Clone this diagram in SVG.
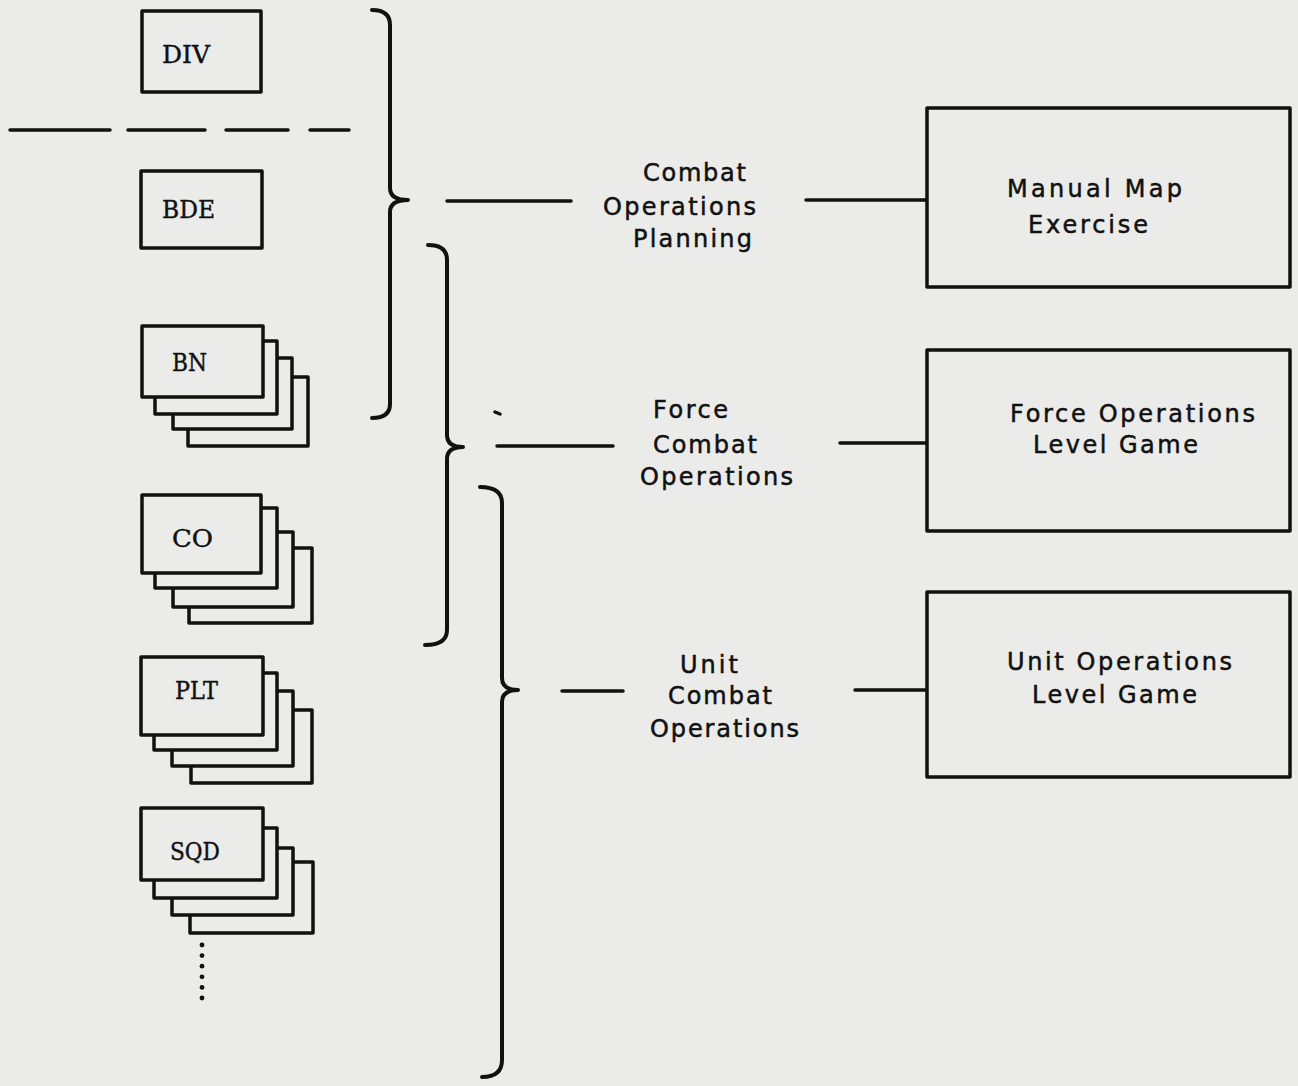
<svg xmlns="http://www.w3.org/2000/svg" width="1298" height="1086" viewBox="0 0 1298 1086">
<style>
.bg{fill:#ebebea}
.box{fill:#ebebea;stroke:#111;stroke-width:3.5;stroke-linejoin:round}
.ln{stroke:#111;stroke-width:3.5;fill:none;stroke-linecap:round}
.br{stroke:#111;stroke-width:4;fill:none;stroke-linecap:round;stroke-linejoin:round}
.lab{font-family:"DejaVu Serif","Liberation Serif",serif;font-size:24px;fill:#111;stroke:#111;stroke-width:0.4}
.tw{font-family:"DejaVu Sans","Liberation Sans",sans-serif;font-size:24px;fill:#111;stroke:#111;stroke-width:0.5}
</style>
<rect class="bg" x="0" y="0" width="1298" height="1086"/>

<g id="connectors">
  <line class="ln" x1="10" y1="130" x2="110" y2="130"/>
  <line class="ln" x1="128" y1="130" x2="205" y2="130"/>
  <line class="ln" x1="226" y1="130" x2="288" y2="130"/>
  <line class="ln" x1="310" y1="130" x2="349" y2="130"/>
  <path class="br" d="M372,10 Q390,10 390,25 L390,188 Q390,200 408,200 Q390,200 390,212 L390,404 Q390,418 372,418"/>
  <path class="br" d="M428,245 Q447,245 447,260 L447,435 Q447,447 463,447 Q447,447 447,459 L447,630 Q447,645 425,645"/>
  <path class="br" d="M480,487 Q502,487 502,503 L502,678 Q502,690 518,690 Q502,690 502,702 L502,1060 Q502,1077 482,1077"/>
  <line class="ln" x1="447" y1="201" x2="571" y2="201"/>
  <line class="ln" x1="806" y1="200" x2="927" y2="200"/>
  <line class="ln" x1="497" y1="446" x2="613" y2="446"/>
  <line class="ln" x1="840" y1="443" x2="927" y2="443"/>
  <line class="ln" x1="562" y1="691" x2="623" y2="691"/>
  <line class="ln" x1="855" y1="690" x2="927" y2="690"/>
  <line class="ln" x1="495" y1="412" x2="500" y2="414" stroke-width="2.5"/>
</g>

<g id="div">
  <rect class="box" x="142" y="11" width="119" height="81"/>
  <text class="lab" x="162" y="63" textLength="48" lengthAdjust="spacingAndGlyphs">DIV</text>
</g>
<g id="bde">
  <rect class="box" x="141" y="171" width="121" height="77"/>
  <text class="lab" x="162" y="218" textLength="53" lengthAdjust="spacingAndGlyphs">BDE</text>
</g>
<g id="bn">
  <rect class="box" x="188" y="377" width="120" height="69"/>
  <rect class="box" x="173" y="358" width="119" height="71"/>
  <rect class="box" x="155" y="341" width="122" height="73"/>
  <rect class="box" x="142" y="326" width="121" height="71"/>
  <text class="lab" x="172" y="371" textLength="35" lengthAdjust="spacingAndGlyphs">BN</text>
</g>
<g id="co">
  <rect class="box" x="189" y="548" width="123" height="75"/>
  <rect class="box" x="173" y="532" width="120" height="75"/>
  <rect class="box" x="155" y="508" width="122" height="80"/>
  <rect class="box" x="142" y="495" width="119" height="78"/>
  <text class="lab" x="172" y="547" textLength="41" lengthAdjust="spacingAndGlyphs">CO</text>
</g>
<g id="plt">
  <rect class="box" x="191" y="710" width="121" height="73"/>
  <rect class="box" x="172" y="691" width="121" height="75"/>
  <rect class="box" x="154" y="673" width="123" height="77"/>
  <rect class="box" x="141" y="657" width="122" height="78"/>
  <text class="lab" x="175" y="699" textLength="43" lengthAdjust="spacingAndGlyphs">PLT</text>
</g>
<g id="sqd">
  <rect class="box" x="190" y="862" width="123" height="71"/>
  <rect class="box" x="172" y="848" width="121" height="67"/>
  <rect class="box" x="154" y="828" width="123" height="70"/>
  <rect class="box" x="141" y="808" width="122" height="72"/>
  <text class="lab" x="170" y="860" textLength="50" lengthAdjust="spacingAndGlyphs">SQD</text>
</g>
<g id="ellipsis" fill="#111">
  <circle cx="202" cy="945" r="2.4"/>
  <circle cx="202" cy="955.6" r="2.4"/>
  <circle cx="202" cy="966.2" r="2.4"/>
  <circle cx="202" cy="976.8" r="2.4"/>
  <circle cx="202" cy="987.4" r="2.4"/>
  <circle cx="202" cy="998" r="2.4"/>
</g>

<g id="combat-operations-planning">
  <text class="tw" x="643" y="181" textLength="103">Combat</text>
  <text class="tw" x="603" y="215" textLength="153">Operations</text>
  <text class="tw" x="633" y="247" textLength="119">Planning</text>
</g>
<g id="force-combat-operations">
  <text class="tw" x="653" y="418" textLength="75">Force</text>
  <text class="tw" x="653" y="453" textLength="104">Combat</text>
  <text class="tw" x="640" y="485" textLength="153">Operations</text>
</g>
<g id="unit-combat-operations">
  <text class="tw" x="680" y="673" textLength="58">Unit</text>
  <text class="tw" x="668" y="704" textLength="104">Combat</text>
  <text class="tw" x="650" y="737" textLength="149">Operations</text>
</g>

<g id="manual-map-exercise">
  <rect class="box" x="927" y="108" width="363" height="179"/>
  <text class="tw" x="1007" y="197" textLength="175">Manual Map</text>
  <text class="tw" x="1028" y="233" textLength="120">Exercise</text>
</g>
<g id="force-operations-level-game">
  <rect class="box" x="927" y="350" width="363" height="181"/>
  <text class="tw" x="1010" y="422" textLength="245">Force Operations</text>
  <text class="tw" x="1033" y="453" textLength="165">Level Game</text>
</g>
<g id="unit-operations-level-game">
  <rect class="box" x="927" y="592" width="363" height="185"/>
  <text class="tw" x="1007" y="670" textLength="225">Unit Operations</text>
  <text class="tw" x="1032" y="703" textLength="165">Level Game</text>
</g>
</svg>
